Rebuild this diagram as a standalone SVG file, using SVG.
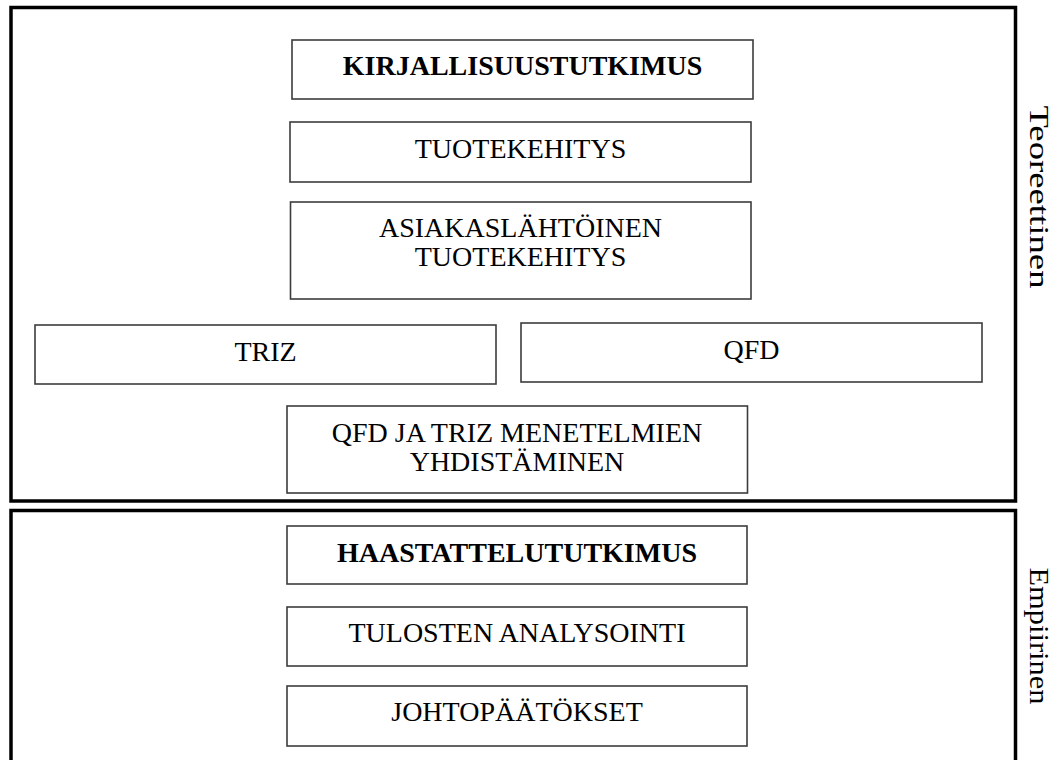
<svg xmlns="http://www.w3.org/2000/svg" width="1060" height="760" viewBox="0 0 1060 760">
  <style>
    .frame { fill: none; stroke: #000; stroke-width: 3.5; }
    .box { fill: #fff; stroke: #3c3c3c; stroke-width: 1.6; }
    .t { font-family: "Liberation Serif", "Times New Roman", serif; font-size: 28px; fill: #000; text-anchor: middle; }
    .b { font-weight: bold; }
    .side { font-family: "Liberation Serif", "Times New Roman", serif; font-size: 28px; fill: #000; text-anchor: middle; }
  </style>
  <rect width="1060" height="760" fill="#fff"/>

  <!-- section frames -->
  <g id="teoreettinen">
    <rect class="frame" x="11" y="7.5" width="1004.5" height="493.5"/>
    <text class="side" transform="translate(1030,197) rotate(90)" textLength="183" lengthAdjust="spacingAndGlyphs">Teoreettinen</text>
  </g>
  <g id="empiirinen">
    <rect class="frame" x="11" y="510.5" width="1004.5" height="270"/>
    <text class="side" transform="translate(1030,636) rotate(90)" textLength="137" lengthAdjust="spacingAndGlyphs">Empiirinen</text>
  </g>

  <!-- connectors: none drawn -->
  <g id="connectors"/>

  <g id="kirjallisuustutkimus">
    <rect class="box" x="292" y="40" width="461" height="59"/>
    <text class="t b" x="522.5" y="75">KIRJALLISUUSTUTKIMUS</text>
  </g>
  <g id="tuotekehitys">
    <rect class="box" x="290" y="122" width="461" height="60"/>
    <text class="t" x="520.5" y="158">TUOTEKEHITYS</text>
  </g>
  <g id="asiakaslahtoinen">
    <rect class="box" x="290.5" y="202" width="460.5" height="97"/>
    <text class="t" x="520.5" y="237">ASIAKASLÄHTÖINEN</text>
    <text class="t" x="520.5" y="266">TUOTEKEHITYS</text>
  </g>
  <g id="triz">
    <rect class="box" x="35" y="325" width="461" height="59"/>
    <text class="t" x="265.5" y="361">TRIZ</text>
  </g>
  <g id="qfd">
    <rect class="box" x="521" y="323" width="461" height="59"/>
    <text class="t" x="751.5" y="358.5">QFD</text>
  </g>
  <g id="yhdistaminen">
    <rect class="box" x="287" y="406" width="460.5" height="87"/>
    <text class="t" x="517" y="441.5">QFD JA TRIZ MENETELMIEN</text>
    <text class="t" x="517" y="470.5">YHDISTÄMINEN</text>
  </g>
  <g id="haastattelututkimus">
    <rect class="box" x="287" y="526" width="460" height="58"/>
    <text class="t b" x="517" y="562">HAASTATTELUTUTKIMUS</text>
  </g>
  <g id="tulosten-analysointi">
    <rect class="box" x="287" y="607" width="460" height="59"/>
    <text class="t" x="517" y="641.5">TULOSTEN ANALYSOINTI</text>
  </g>
  <g id="johtopaatokset">
    <rect class="box" x="287" y="686" width="460" height="60"/>
    <text class="t" x="517" y="721">JOHTOPÄÄTÖKSET</text>
  </g>
</svg>
